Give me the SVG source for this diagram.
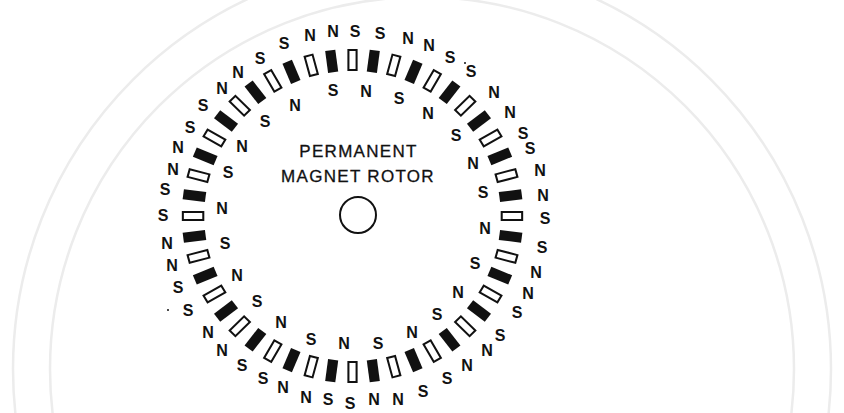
<svg xmlns="http://www.w3.org/2000/svg" xmlns:xlink="http://www.w3.org/1999/xlink" width="844" height="413" viewBox="0 0 844 413">
  <style>
    .pole { font-family: "Liberation Sans", Arial, Helvetica, sans-serif; font-size: 16px; font-weight: bold; fill: #111; text-anchor: middle; }
    .title { font-family: "Liberation Sans", Arial, Helvetica, sans-serif; font-size: 17px; fill: #111; stroke: #111; stroke-width: 0.3; text-anchor: middle; letter-spacing: 1.3px; }
    .open { fill: #fff; stroke: #111; stroke-width: 2; }
    .solid { fill: #111; }
    .seal { fill: none; stroke: #ececec; stroke-width: 2.5; }
  </style>
  <defs>
    <!-- one stator magnet, standing at the top of the ring; copies are rotated about the ring centre (352.5,216) -->
    <rect id="mag-open" class="open" x="348.5" y="50" width="8" height="20"/>
    <rect id="mag-solid" class="solid" x="347.5" y="49" width="10" height="22"/>
  </defs>

  <rect width="844" height="413" fill="#fff"/>

  <!-- faint seal rings in the paper background -->
  <g id="background-seal" class="seal">
    <circle cx="422" cy="369" r="409"/>
    <circle cx="422" cy="369" r="372"/>
  </g>

  <!-- stator ring: 48 magnets, alternating open / solid every 7.5 degrees -->
  <g id="stator-magnets" transform="matrix(1.022 0 0 1 -7.755 0)">
    <use xlink:href="#mag-open"  transform="rotate(0 352.5 216)"/>
    <use xlink:href="#mag-solid" transform="rotate(7.5 352.5 216)"/>
    <use xlink:href="#mag-open"  transform="rotate(15 352.5 216)"/>
    <use xlink:href="#mag-solid" transform="rotate(22.5 352.5 216)"/>
    <use xlink:href="#mag-open"  transform="rotate(30 352.5 216)"/>
    <use xlink:href="#mag-solid" transform="rotate(37.5 352.5 216)"/>
    <use xlink:href="#mag-open"  transform="rotate(45 352.5 216)"/>
    <use xlink:href="#mag-solid" transform="rotate(52.5 352.5 216)"/>
    <use xlink:href="#mag-open"  transform="rotate(60 352.5 216)"/>
    <use xlink:href="#mag-solid" transform="rotate(67.5 352.5 216)"/>
    <use xlink:href="#mag-open"  transform="rotate(75 352.5 216)"/>
    <use xlink:href="#mag-solid" transform="rotate(82.5 352.5 216)"/>
    <use xlink:href="#mag-open"  transform="rotate(90 352.5 216)"/>
    <use xlink:href="#mag-solid" transform="rotate(97.5 352.5 216)"/>
    <use xlink:href="#mag-open"  transform="rotate(105 352.5 216)"/>
    <use xlink:href="#mag-solid" transform="rotate(112.5 352.5 216)"/>
    <use xlink:href="#mag-open"  transform="rotate(120 352.5 216)"/>
    <use xlink:href="#mag-solid" transform="rotate(127.5 352.5 216)"/>
    <use xlink:href="#mag-open"  transform="rotate(135 352.5 216)"/>
    <use xlink:href="#mag-solid" transform="rotate(142.5 352.5 216)"/>
    <use xlink:href="#mag-open"  transform="rotate(150 352.5 216)"/>
    <use xlink:href="#mag-solid" transform="rotate(157.5 352.5 216)"/>
    <use xlink:href="#mag-open"  transform="rotate(165 352.5 216)"/>
    <use xlink:href="#mag-solid" transform="rotate(172.5 352.5 216)"/>
    <use xlink:href="#mag-open"  transform="rotate(180 352.5 216)"/>
    <use xlink:href="#mag-solid" transform="rotate(187.5 352.5 216)"/>
    <use xlink:href="#mag-open"  transform="rotate(195 352.5 216)"/>
    <use xlink:href="#mag-solid" transform="rotate(202.5 352.5 216)"/>
    <use xlink:href="#mag-open"  transform="rotate(210 352.5 216)"/>
    <use xlink:href="#mag-solid" transform="rotate(217.5 352.5 216)"/>
    <use xlink:href="#mag-open"  transform="rotate(225 352.5 216)"/>
    <use xlink:href="#mag-solid" transform="rotate(232.5 352.5 216)"/>
    <use xlink:href="#mag-open"  transform="rotate(240 352.5 216)"/>
    <use xlink:href="#mag-solid" transform="rotate(247.5 352.5 216)"/>
    <use xlink:href="#mag-open"  transform="rotate(255 352.5 216)"/>
    <use xlink:href="#mag-solid" transform="rotate(262.5 352.5 216)"/>
    <use xlink:href="#mag-open"  transform="rotate(270 352.5 216)"/>
    <use xlink:href="#mag-solid" transform="rotate(277.5 352.5 216)"/>
    <use xlink:href="#mag-open"  transform="rotate(285 352.5 216)"/>
    <use xlink:href="#mag-solid" transform="rotate(292.5 352.5 216)"/>
    <use xlink:href="#mag-open"  transform="rotate(300 352.5 216)"/>
    <use xlink:href="#mag-solid" transform="rotate(307.5 352.5 216)"/>
    <use xlink:href="#mag-open"  transform="rotate(315 352.5 216)"/>
    <use xlink:href="#mag-solid" transform="rotate(322.5 352.5 216)"/>
    <use xlink:href="#mag-open"  transform="rotate(330 352.5 216)"/>
    <use xlink:href="#mag-solid" transform="rotate(337.5 352.5 216)"/>
    <use xlink:href="#mag-open"  transform="rotate(345 352.5 216)"/>
    <use xlink:href="#mag-solid" transform="rotate(352.5 352.5 216)"/>
  </g>

  <!-- pole letters outside the ring -->
  <g id="outer-poles" class="pole">
    <text x="355" y="37">S</text>
    <text x="380" y="39">S</text>
    <text x="408" y="44">N</text>
    <text x="429" y="51">N</text>
    <text x="450" y="63">S</text>
    <text x="471" y="77">S</text>
    <text x="494" y="98">N</text>
    <text x="510" y="118">N</text>
    <text x="523" y="139">S</text>
    <text x="530" y="154">S</text>
    <text x="540" y="176">N</text>
    <text x="543" y="201">N</text>
    <text x="545" y="224">S</text>
    <text x="542" y="253">S</text>
    <text x="536" y="278">N</text>
    <text x="528" y="299">N</text>
    <text x="517" y="318">S</text>
    <text x="500" y="341">S</text>
    <text x="487" y="356">N</text>
    <text x="467" y="371">N</text>
    <text x="447" y="384">S</text>
    <text x="423" y="397">S</text>
    <text x="398" y="405">N</text>
    <text x="374" y="405">N</text>
    <text x="350" y="409">S</text>
    <text x="328" y="405">S</text>
    <text x="306" y="403">N</text>
    <text x="283" y="393">N</text>
    <text x="263" y="384">S</text>
    <text x="242" y="371">S</text>
    <text x="222" y="356">N</text>
    <text x="208" y="338">N</text>
    <text x="188" y="316">S</text>
    <text x="178" y="293">S</text>
    <text x="172" y="271">N</text>
    <text x="167" y="249">N</text>
    <text x="163" y="221">S</text>
    <text x="165" y="195">S</text>
    <text x="173" y="175">N</text>
    <text x="178" y="153">N</text>
    <text x="190" y="133">S</text>
    <text x="203" y="111">S</text>
    <text x="222" y="94">N</text>
    <text x="238" y="78">N</text>
    <text x="260" y="64">S</text>
    <text x="284" y="49">S</text>
    <text x="310" y="41">N</text>
    <text x="333" y="37">N</text>
  </g>

  <!-- pole letters inside the ring -->
  <g id="inner-poles" class="pole">
    <text x="333" y="96">S</text>
    <text x="366" y="97">N</text>
    <text x="399" y="104">S</text>
    <text x="428" y="119">N</text>
    <text x="456" y="141">S</text>
    <text x="473" y="169">N</text>
    <text x="483" y="198">S</text>
    <text x="485" y="234">N</text>
    <text x="475" y="269">S</text>
    <text x="458" y="298">N</text>
    <text x="437" y="320">S</text>
    <text x="412" y="338">N</text>
    <text x="378" y="349">S</text>
    <text x="344" y="349">N</text>
    <text x="311" y="345">S</text>
    <text x="281" y="328">N</text>
    <text x="257" y="307">S</text>
    <text x="237" y="281">N</text>
    <text x="225" y="249">S</text>
    <text x="222" y="214">N</text>
    <text x="228" y="178">S</text>
    <text x="242" y="152">N</text>
    <text x="265" y="127">S</text>
    <text x="295" y="111">N</text>
  </g>

  <!-- stray specks printed beside two letters -->
  <g id="specks" fill="#111">
    <circle cx="465" cy="63" r="1"/>
    <circle cx="168" cy="310" r="1"/>
  </g>

  <!-- rotor and its caption -->
  <g id="rotor">
    <circle cx="358" cy="215" r="18" fill="none" stroke="#111" stroke-width="2"/>
  </g>
  <g id="rotor-caption" class="title">
    <text x="358.5" y="157">PERMANENT</text>
    <text x="358" y="182">MAGNET ROTOR</text>
  </g>
</svg>
